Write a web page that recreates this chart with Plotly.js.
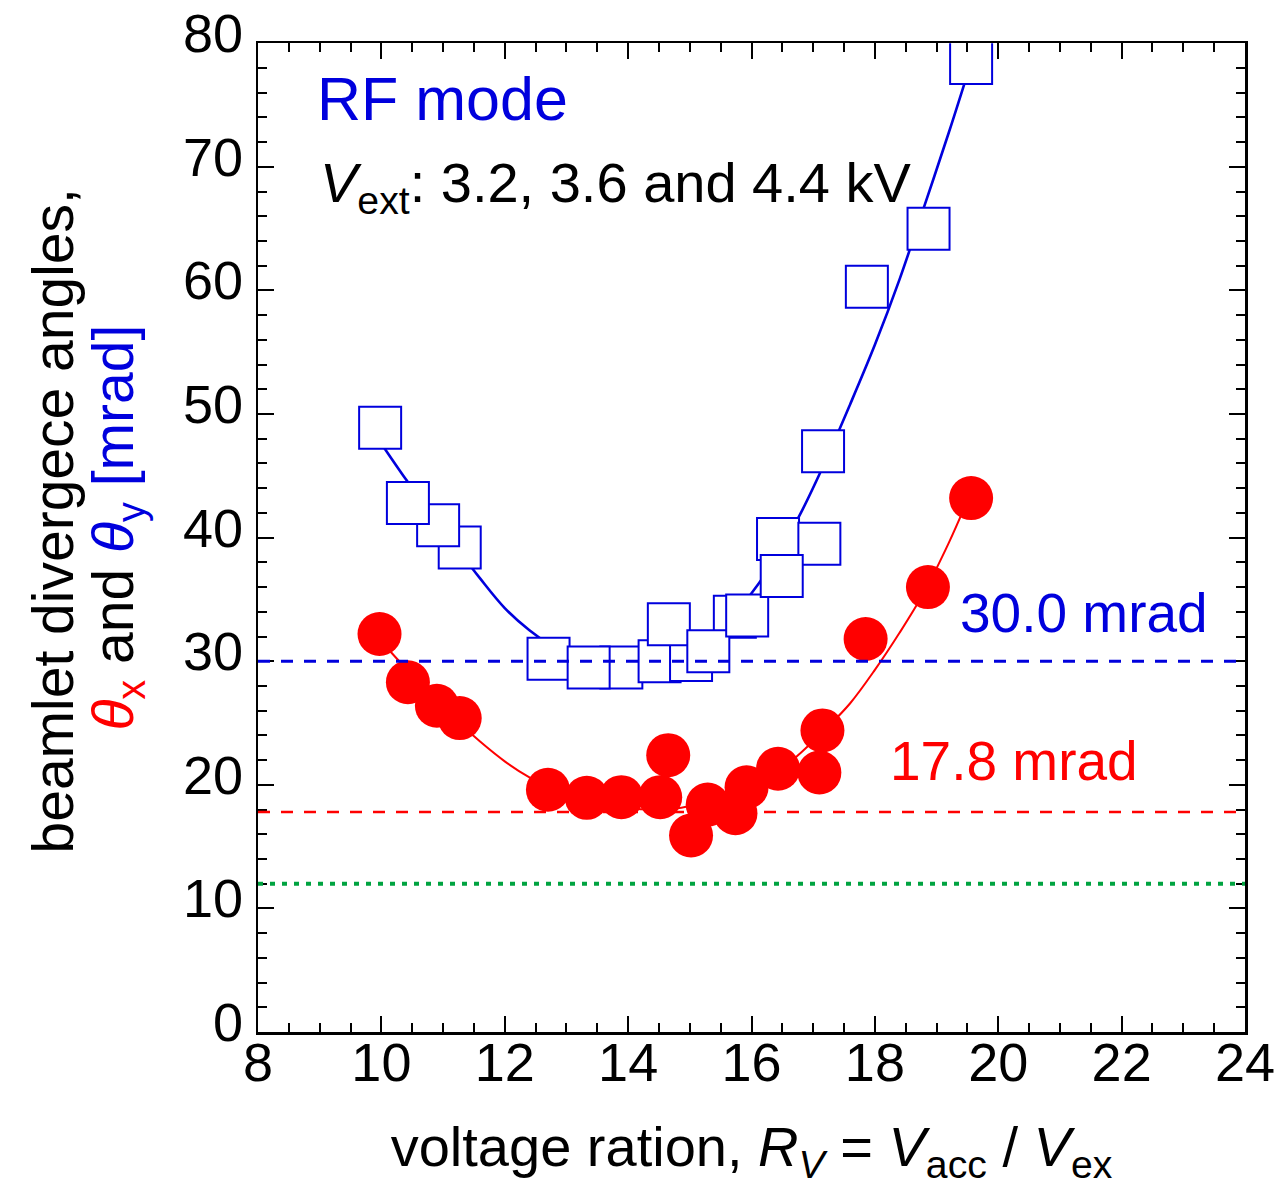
<!DOCTYPE html>
<html>
<head>
<meta charset="utf-8">
<script src="https://cdn.plot.ly/plotly-3.0.1.min.js"></script>
<style>
  html, body { margin: 0; padding: 0; background: #ffffff; }
  #chart { width: 1280px; height: 1186px; }
</style>
</head>
<body>
<div id="chart"></div>
<script>
// theta_y (vertical divergence) measurements, RF mode
const thetaY_rv  = [11.27, 10.92, 10.43, 9.98, 12.71, 13.89, 13.36, 14.51, 15.02, 14.66,
                    15.73, 15.30, 15.93, 16.43, 17.10, 16.49, 17.16, 17.87, 18.87, 19.56];
const thetaY_val = [39.2, 41.0, 42.8, 48.9, 30.2, 29.5, 29.5, 30.0, 30.1, 33.0,
                    33.6, 30.8, 33.7, 39.9, 39.5, 36.9, 47.0, 60.3, 65.0, 78.4];

// theta_x (horizontal divergence) measurements, RF mode
const thetaX_rv  = [9.97, 10.43, 10.90, 11.27, 12.70, 13.33, 13.89, 14.52, 14.65, 15.02,
                    15.29, 15.74, 15.92, 16.43, 17.10, 17.15, 17.85, 18.86, 19.56];
const thetaX_val = [32.2, 28.3, 26.4, 25.4, 19.6, 18.95, 19.0, 19.0, 22.4, 15.9,
                    18.4, 17.7, 19.8, 21.3, 21.0, 24.4, 31.8, 36.0, 43.2];

// fitted trend curves
const fitY_rv  = [10.0, 10.4, 10.8, 11.2, 11.6, 12.0, 12.4, 12.8, 13.2, 13.6, 14.0, 14.4,
                  14.8, 15.2, 15.6, 16.0, 16.4, 16.8, 17.2, 17.6, 18.0, 18.4, 18.8, 19.2, 19.55];
const fitY_val = [47.6, 44.7, 42.0, 39.3, 36.7, 34.3, 32.5, 31.1, 30.1, 29.5, 29.2, 29.4,
                  30.1, 31.3, 33.1, 35.5, 38.4, 42.0, 46.2, 50.8, 55.6, 60.9, 66.8, 72.8, 78.3];

const fitX_rv  = [10.0, 10.4, 10.8, 11.2, 11.6, 12.0, 12.4, 12.8, 13.2, 13.6, 14.0, 14.4,
                  14.8, 15.2, 15.6, 16.0, 16.4, 16.8, 17.2, 17.6, 18.0, 18.4, 18.8, 19.2, 19.5];
const fitX_val = [31.6, 29.4, 27.3, 25.3, 23.5, 21.9, 20.6, 19.6, 18.9, 18.4, 18.1, 18.0,
                  18.1, 18.5, 19.0, 19.8, 20.9, 22.6, 24.5, 26.6, 29.3, 32.3, 35.6, 39.6, 43.0];

// reference levels [mrad]
const levelY = 30.0;
const levelX = 17.8;
const levelGreen = 12.0;

const BLUE = '#0000dd';
const RED = '#ff0000';
const GREEN = '#00a340';
const FONT = 'Liberation Sans, Arial, Helvetica, sans-serif';

const traces = [
  { x: fitY_rv, y: fitY_val, mode: 'lines', line: { color: BLUE, width: 2.6, shape: 'spline' },
    hoverinfo: 'skip', showlegend: false },
  { x: fitX_rv, y: fitX_val, mode: 'lines', line: { color: RED, width: 2, shape: 'spline' },
    hoverinfo: 'skip', showlegend: false },
  { x: thetaY_rv, y: thetaY_val, mode: 'markers', name: 'θy',
    marker: { symbol: 'square', size: 42, color: '#ffffff', line: { color: BLUE, width: 2 } },
    showlegend: false },
  { x: thetaX_rv, y: thetaX_val, mode: 'markers', name: 'θx',
    marker: { symbol: 'circle', size: 44, color: RED, line: { width: 0 } },
    showlegend: false },
  // carrier for the left-hand label axis
  { x: [], y: [], xaxis: 'x', yaxis: 'y2', mode: 'markers', showlegend: false, hoverinfo: 'skip' }
];

const tickFont = { family: FONT, size: 54, color: '#000000' };

// plot area: 258..1245 px horizontally, 43..1032 px vertically
const MAIN_TOP = 0.9897;
const LABEL_SHIFT = 0.0100;   // tick labels sit slightly above their ticks

const layout = {
  width: 1280, height: 1186,
  margin: { l: 258, r: 35, t: 33, b: 154, pad: 0 },
  paper_bgcolor: '#ffffff', plot_bgcolor: 'rgba(0,0,0,0)',
  showlegend: false,
  font: { family: FONT, color: '#000000' },
  xaxis: {
    range: [8, 24], dtick: 2, tick0: 8,
    showline: true, linecolor: '#000000', linewidth: 2.5, mirror: 'ticks',
    ticks: 'inside', ticklen: 16, tickwidth: 2, tickcolor: '#000000',
    minor: { dtick: 0.5, ticks: 'inside', ticklen: 9, tickwidth: 2, tickcolor: '#000000', showgrid: false },
    showgrid: false, zeroline: false,
    tickfont: tickFont, ticklabelstandoff: -18,
    title: { text: 'voltage ration, <i>R</i><sub><i>V</i></sub> = <i>V</i><sub>acc</sub> / <i>V</i><sub>ex</sub>',
             font: { family: FONT, size: 56, color: '#000000' }, standoff: 50 }
  },
  yaxis: {
    domain: [0, MAIN_TOP],
    range: [0, 80], dtick: 10, tick0: 0,
    showline: true, linecolor: '#000000', linewidth: 2.5, mirror: 'ticks',
    ticks: 'inside', ticklen: 16, tickwidth: 2, tickcolor: '#000000',
    minor: { dtick: 2, ticks: 'inside', ticklen: 9, tickwidth: 2, tickcolor: '#000000', showgrid: false },
    showgrid: false, zeroline: false, showticklabels: false
  },
  yaxis2: {
    domain: [LABEL_SHIFT, MAIN_TOP + LABEL_SHIFT],
    anchor: 'free', position: 0, side: 'left',
    range: [0, 80], dtick: 10, tick0: 0,
    showline: false, showgrid: false, zeroline: false,
    ticks: 'inside', ticklen: 16, tickwidth: 0, tickcolor: 'rgba(0,0,0,0)',
    tickfont: tickFont, ticklabelstandoff: 15,
    title: { text: '<span style="color:' + RED + '"><i>θ</i><sub>x</sub></span> and <span style="color:' + BLUE + '"><i>θ</i><sub>y</sub> [mrad]</span>',
             font: { family: FONT, size: 57, color: '#000000' }, standoff: 29 }
  },
  shapes: [
    { type: 'line', xref: 'paper', x0: 0, x1: 1, yref: 'y', y0: levelY, y1: levelY, layer: 'above',
      line: { color: BLUE, width: 3, dash: '12px,11px' } },
    { type: 'line', xref: 'paper', x0: 0, x1: 1, yref: 'y', y0: levelX, y1: levelX, layer: 'above',
      line: { color: RED, width: 2.6, dash: '12px,11px' } },
    { type: 'line', xref: 'paper', x0: 0, x1: 1, yref: 'y', y0: levelGreen, y1: levelGreen, layer: 'above',
      line: { color: GREEN, width: 4, dash: '5px,7px' } }
  ],
  annotations: [
    // first line of the y-axis title
    { xref: 'paper', yref: 'paper', x: -0.2087, y: 0.511, xanchor: 'center', yanchor: 'middle',
      textangle: -90, showarrow: false,
      text: 'beamlet divergece angles,', font: { family: FONT, size: 57, color: '#000000' } },
    { xref: 'x', yref: 'y', x: 8.93, y: 75.5, xanchor: 'left', yanchor: 'middle', showarrow: false,
      text: 'RF mode', font: { family: FONT, size: 61, color: BLUE } },
    { xref: 'x', yref: 'y', x: 8.97, y: 68.4, xanchor: 'left', yanchor: 'middle', showarrow: false,
      text: '<i>V</i><sub>ext</sub>: 3.2, 3.6 and 4.4 kV', font: { family: FONT, size: 56, color: '#000000' } },
    { xref: 'x', yref: 'y', x: 19.35, y: 33.9, xanchor: 'left', yanchor: 'middle', showarrow: false,
      text: '30.0 mrad', font: { family: FONT, size: 55, color: BLUE } },
    { xref: 'x', yref: 'y', x: 18.22, y: 21.9, xanchor: 'left', yanchor: 'middle', showarrow: false,
      text: '17.8 mrad', font: { family: FONT, size: 55, color: RED } }
  ]
};

Plotly.newPlot('chart', traces, layout, { staticPlot: true, displayModeBar: false });
</script>
</body>
</html>
